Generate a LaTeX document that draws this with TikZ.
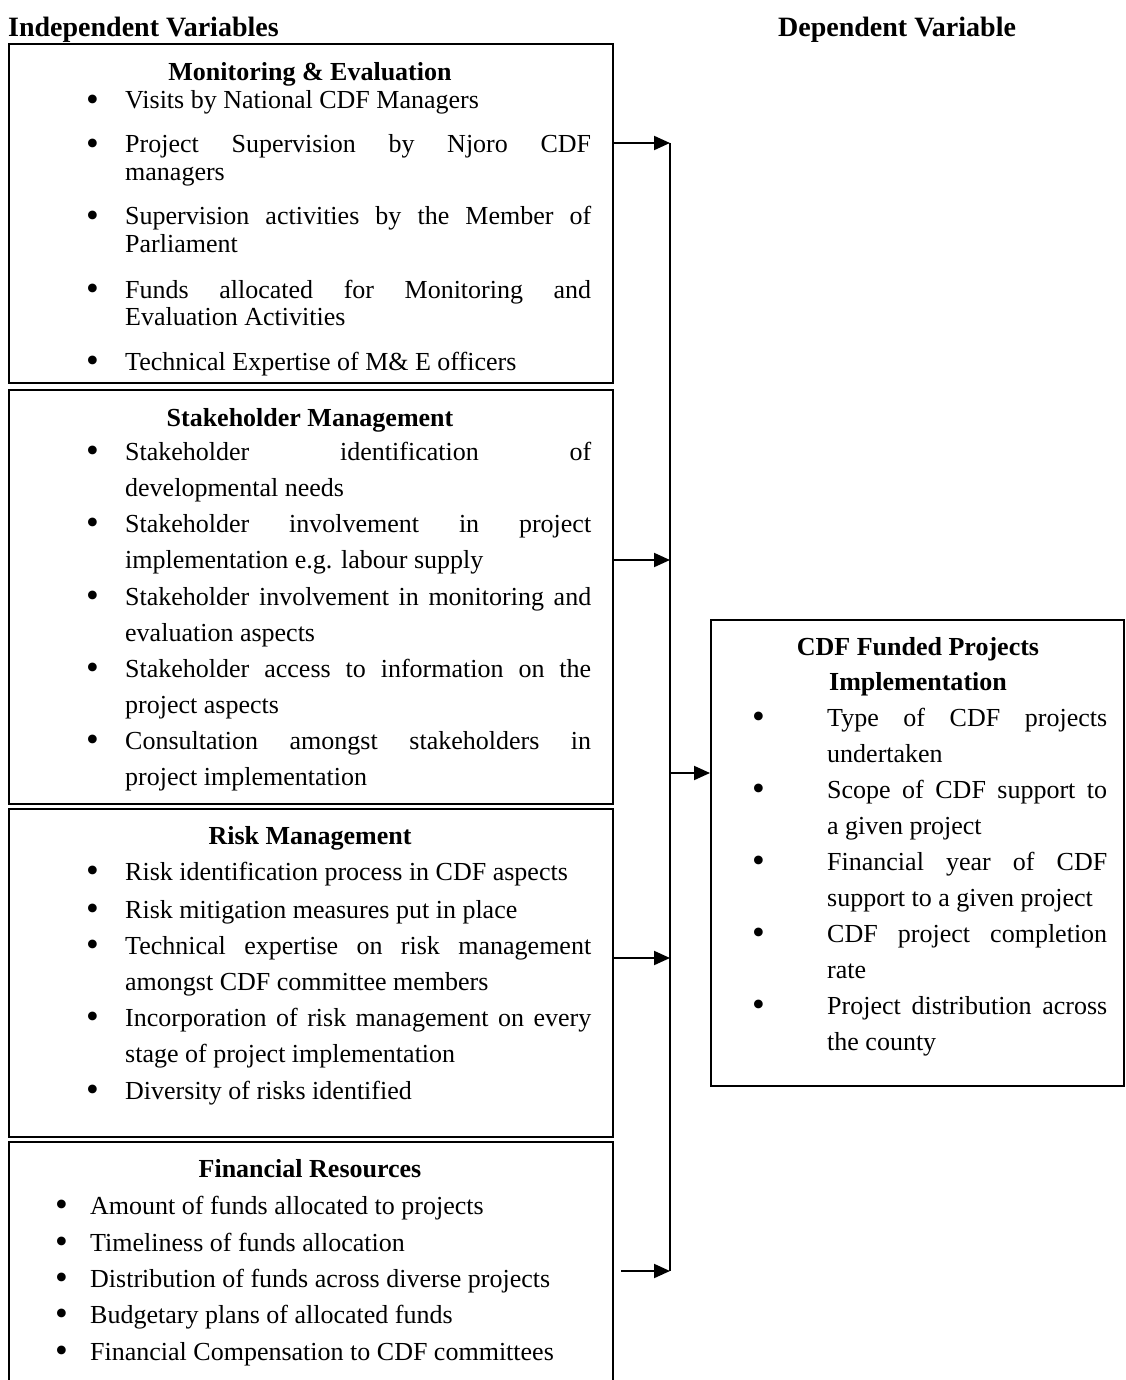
\documentclass[tikz,border=0pt]{standalone}
\usepackage{fontspec}
\usepackage{graphicx}
\setmainfont{Liberation Serif}
\usetikzlibrary{arrows.meta}
\newcommand\fsA{\fontsize{26pt}{28pt}\selectfont}
\newcommand\fsB{\fontsize{26pt}{36pt}\selectfont}
\newcommand\fsH{\fontsize{26pt}{35pt}\selectfont\bfseries}
\newcommand\fsT{\fontsize{28pt}{32pt}\selectfont\bfseries}
\newcommand\J[1]{\makebox[\linewidth][s]{#1}\\}
\newcommand\bigbul{\raisebox{-0.1em}{\scalebox{1.4}{\textbullet}}}
\newcommand\bitem[3]{\makebox[#1][l]{\bigbul}\parbox[t]{#2}{#3}}
\tikzset{
  box/.style={draw=black, line width=2pt, anchor=north west, inner sep=0pt},
  itm/.style={anchor=base west, inner sep=0pt},
  ttl/.style={anchor=base, inner sep=0pt, font=\fsH},
  arr/.style={line width=2pt, -{Triangle[length=16pt,width=14pt]}},
  bus/.style={line width=2pt}
}
\begin{document}
\begin{tikzpicture}[x=1pt,y=-1pt]
\useasboundingbox (0,0) rectangle (1125,1380);
\clip (0,0) rectangle (1125,1380);
% headers
\node[itm, font=\fsT] (hiv) at (8,37) {Independent Variables};
\node[itm, font=\fsT] (hdv) at (778,37) {Dependent Variable};
% boxes
\node[box, minimum width=604pt, minimum height=339pt] (me) at (8,43) {};
\node[box, minimum width=604pt, minimum height=414pt] (sm) at (8,389) {};
\node[box, minimum width=604pt, minimum height=328pt] (rm) at (8,808) {};
\node[box, minimum width=604pt, minimum height=260pt] (fr) at (8,1141) {};
\node[box, minimum width=413pt, minimum height=466pt] (dv) at (710,619) {};
% Monitoring & Evaluation
\node[ttl] (meT) at (310,81) {Monitoring \& Evaluation};
\node[itm, font=\fsA] (me1) at (86,109) {\bitem{39pt}{466pt}{Visits by National CDF Managers}};
\node[itm, font=\fsA] (me2) at (86,153) {\bitem{39pt}{466pt}{\J{Project Supervision by Njoro CDF}managers}};
\node[itm, font=\fsA] (me3) at (86,225) {\bitem{39pt}{466pt}{\J{Supervision activities by the Member of}Parliament}};
\node[itm, font=\fsA] (me4) at (86,298) {\bitem{39pt}{466pt}{\J{Funds allocated for Monitoring and}Evaluation Activities}};
\node[itm, font=\fsA] (me5) at (86,370) {\bitem{39pt}{466pt}{Technical Expertise of M\& E officers}};
% Stakeholder Management
\node[ttl] (smT) at (310,426) {Stakeholder Management};
\node[itm, font=\fsB] (sm1) at (86,460) {\bitem{39pt}{466pt}{\J{Stakeholder identification of}developmental needs}};
\node[itm, font=\fsB] (sm2) at (86,532) {\bitem{39pt}{466pt}{\J{Stakeholder involvement in project}implementation e.g. labour supply}};
\node[itm, font=\fsB] (sm3) at (86,605) {\bitem{39pt}{466pt}{\J{Stakeholder involvement in monitoring and}evaluation aspects}};
\node[itm, font=\fsB] (sm4) at (86,677) {\bitem{39pt}{466pt}{\J{Stakeholder access to information on the}project aspects}};
\node[itm, font=\fsB] (sm5) at (86,749) {\bitem{39pt}{466pt}{\J{Consultation amongst stakeholders in}project implementation}};
% Risk Management
\node[ttl] (rmT) at (310,844) {Risk Management};
\node[itm, font=\fsB] (rm1) at (86,880) {\bitem{39pt}{466pt}{Risk identification process in CDF aspects}};
\node[itm, font=\fsB] (rm2) at (86,918) {\bitem{39pt}{466pt}{Risk mitigation measures put in place}};
\node[itm, font=\fsB] (rm3) at (86,954) {\bitem{39pt}{466pt}{\J{Technical expertise on risk management}amongst CDF committee members}};
\node[itm, font=\fsB] (rm4) at (86,1026) {\bitem{39pt}{466pt}{\J{Incorporation of risk management on every}stage of project implementation}};
\node[itm, font=\fsB] (rm5) at (86,1099) {\bitem{39pt}{466pt}{Diversity of risks identified}};
% Financial Resources
\node[ttl] (frT) at (310,1177) {Financial Resources};
\node[itm, font=\fsB] (fr1) at (55,1214) {\bitem{35pt}{500pt}{Amount of funds allocated to projects}};
\node[itm, font=\fsB] (fr2) at (55,1251) {\bitem{35pt}{500pt}{Timeliness of funds allocation}};
\node[itm, font=\fsB] (fr3) at (55,1287) {\bitem{35pt}{500pt}{Distribution of funds across diverse projects}};
\node[itm, font=\fsB] (fr4) at (55,1323) {\bitem{35pt}{500pt}{Budgetary plans of allocated funds}};
\node[itm, font=\fsB] (fr5) at (55,1360) {\bitem{35pt}{500pt}{Financial Compensation to CDF committees}};
% Dependent variable box
\node[ttl] (dvT) at (918,655) {\parbox[t]{380pt}{\centering CDF Funded Projects\\Implementation}};
\node[itm, font=\fsB] (dv1) at (752,726) {\bitem{75pt}{280pt}{\J{Type of CDF projects}undertaken}};
\node[itm, font=\fsB] (dv2) at (752,798) {\bitem{75pt}{280pt}{\J{Scope of CDF support to}a given project}};
\node[itm, font=\fsB] (dv3) at (752,870) {\bitem{75pt}{280pt}{\J{Financial year of CDF}support to a given project}};
\node[itm, font=\fsB] (dv4) at (752,942) {\bitem{75pt}{280pt}{\J{CDF project completion}rate}};
\node[itm, font=\fsB] (dv5) at (752,1014) {\bitem{75pt}{280pt}{\J{Project distribution across}the county}};
% connectors
\coordinate (j1) at (670,143);
\coordinate (j2) at (670,560);
\coordinate (j3) at (670,958);
\coordinate (j4) at (670,1271);
\coordinate (jd) at (670,773);
\coordinate (s4) at (621,1271);
\draw[bus] (j1) -- (j4);
\draw[arr] (me.east |- j1) -- (j1);
\draw[arr] (sm.east |- j2) -- (j2);
\draw[arr] (rm.east |- j3) -- (j3);
\draw[arr] (s4) -- (j4);
\draw[arr] (jd) -- (dv.west |- jd);
\end{tikzpicture}
\end{document}
